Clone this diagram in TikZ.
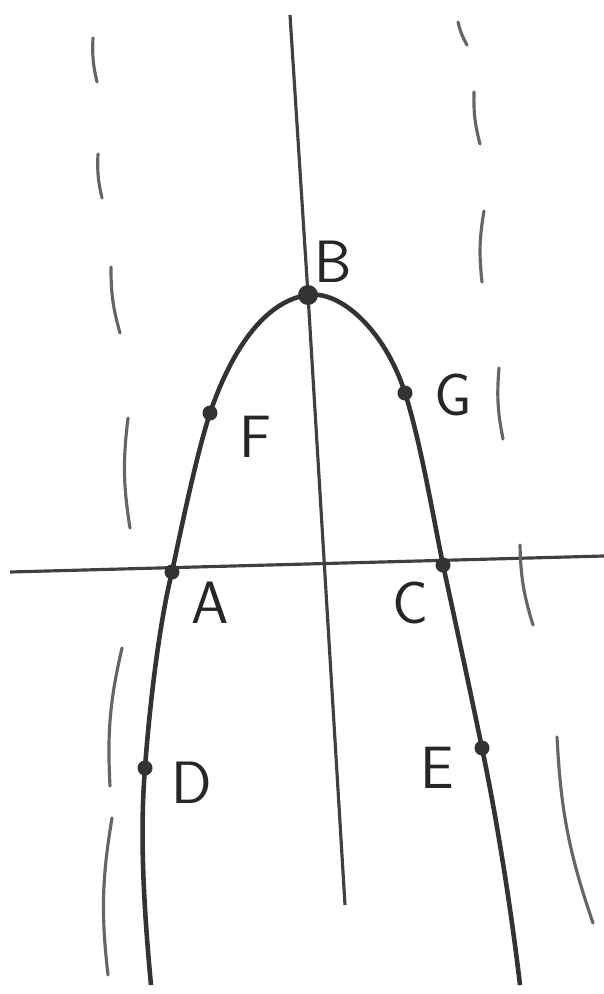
\documentclass[tikz,border=0pt]{standalone}
\usepackage{tikz}
\usetikzlibrary{calc}
\tikzset{
  curve/.style={line width=1.3pt, color=black!80},
  axis/.style={line width=0.9pt, color=black!75},
  guide/.style={line width=0.9pt, color=black!60, line cap=round},
  dot/.style={fill=black!80},
  lbl/.style={font=\fontsize{17}{19}\selectfont\sffamily, color=black!85}
}
\begin{document}
\begin{tikzpicture}[x=0.01cm, y=-0.01cm]
  \useasboundingbox (0,0) rectangle (604,994);
  %%points on the parabola
  \coordinate (B) at (308,295);
  \coordinate (F) at (210,413);
  \coordinate (A) at (172,572);
  \coordinate (D) at (145,768);
  \coordinate (G) at (405,393);
  \coordinate (C) at (443,565);
  \coordinate (E) at (482,748);
  \coordinate (Lend) at (151,985);
  \coordinate (Rend) at (520,985);

  %%axes
  \coordinate (Top) at (290,15);
  \coordinate (Bot) at (345,905);
  \coordinate (West) at (10,572);
  \coordinate (East) at (604,556);
  \draw[axis] (Top) -- (B) -- (Bot);
  \draw[axis] (West) -- (East);

  %%parabola
  \draw[curve] (Lend) .. controls (143,900) and (140,830) .. (D)
      .. controls (150,700) and (160,620) .. (A)
      .. controls (185,510) and (198,450) .. (F)
      .. controls (235,340) and (270,300) .. (B)
      .. controls (340,290) and (385,330) .. (G)
      .. controls (420,440) and (432,510) .. (C)
      .. controls (455,620) and (470,690) .. (E)
      .. controls (495,810) and (510,900) .. (Rend);

  %%dashed guides, drawn by hand
  \foreach \a/\b/\c/\d in {93/38/97/82, 98/154/102/198, 111/267/120/333, 128/418/130/528,
                           122/648/110/786, 112/818/108/975} {
    \draw[guide] (\a,\b) to[bend right=8] (\c,\d);
  }
  \foreach \a/\b/\c/\d in {458/22/467/45, 474/92/480/144, 484/211/482/282, 499/368/503/439,
                           520/545/533/625, 557/737/593/923} {
    \draw[guide] (\a,\b) to[bend right=8] (\c,\d);
  }

  %%dots and names
  \fill[dot] (B) circle (10);
  \foreach \p in {F,A,D,G,C,E} {
    \fill[dot] (\p) circle (7.5);
  }
  \node[lbl] (nB) at (333,262) {B};
  \node[lbl] (nF) at (255,437) {F};
  \node[lbl] (nG) at (453,395) {G};
  \node[lbl] (nA) at (210,603) {A};
  \node[lbl] (nC) at (410,603) {C};
  \node[lbl] (nD) at (192,783) {D};
  \node[lbl] (nE) at (437,768) {E};
\end{tikzpicture}
\end{document}
